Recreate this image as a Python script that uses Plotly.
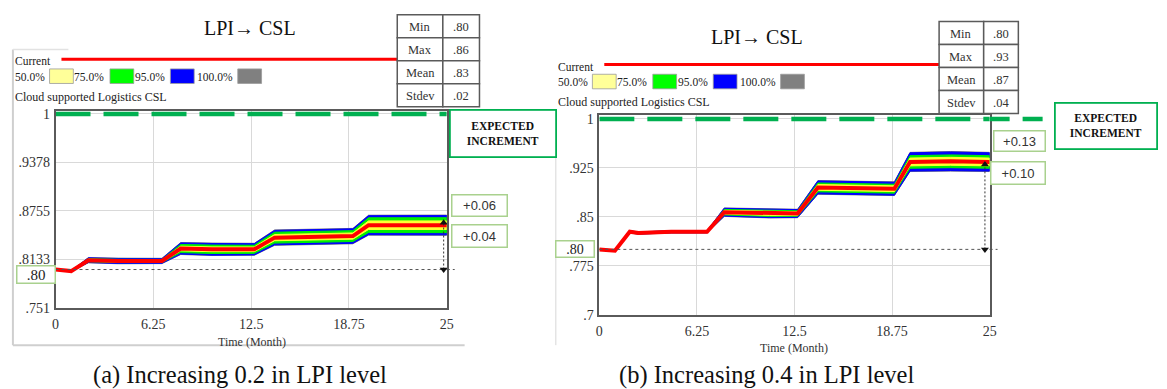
import plotly.graph_objects as go

W, H = 1167, 389
SERIF = "Liberation Serif, Times New Roman, serif"
SANS = "Liberation Sans, Arial, sans-serif"

# ---------------- data ----------------
xticks = [0, 6.25, 12.5, 18.75, 25]
xticklabels = ["0", "6.25", "12.5", "18.75", "25"]

yticks_a = [0.751, 0.8133, 0.8755, 0.9378, 1.0]
yticklabels_a = [".751", ".8133", ".8755", ".9378", "1"]
yticks_b = [0.7, 0.775, 0.85, 0.925, 1.0]
yticklabels_b = [".7", ".775", ".85", ".925", "1"]

# (a) +0.2 LPI
time_a = [0, 1.0, 2.1, 4.0, 6.8, 8.0, 10.0, 12.7, 14.0, 16.5, 19.0, 20.0, 22.5, 25.0]
current_a = [0.800, 0.798, 0.812, 0.811, 0.811, 0.827, 0.826, 0.826, 0.841, 0.842, 0.843, 0.857, 0.857, 0.857]
spread50_a = [0.0, 0.0002, 0.0012, 0.0013, 0.0012, 0.0030, 0.0031, 0.0030, 0.0040, 0.0042, 0.0040, 0.0055, 0.0054, 0.0055]
spread75_a = [0.0, 0.0003, 0.0020, 0.0021, 0.0020, 0.0052, 0.0054, 0.0052, 0.0070, 0.0072, 0.0070, 0.0095, 0.0094, 0.0096]
spread95_a = [0.0, 0.0005, 0.0030, 0.0032, 0.0030, 0.0072, 0.0075, 0.0072, 0.0093, 0.0096, 0.0093, 0.0122, 0.0121, 0.0124]
spread100_a = [0.0, 0.0006, 0.0034, 0.0036, 0.0034, 0.0077, 0.0080, 0.0077, 0.0099, 0.0102, 0.0099, 0.0128, 0.0127, 0.0130]

# (b) +0.4 LPI
time_b = [0, 1.0, 1.95, 2.5, 4.6, 6.9, 8.0, 10.9, 12.7, 14.0, 16.5, 18.9, 19.9, 22.5, 25.0]
current_b = [0.800, 0.798, 0.827, 0.825, 0.827, 0.827, 0.857, 0.855, 0.855, 0.895, 0.894, 0.893, 0.934, 0.935, 0.934]
spread50_b = [0.0, 0.0001, 0.0006, 0.0006, 0.0006, 0.0006, 0.0028, 0.0029, 0.0028, 0.0044, 0.0045, 0.0044, 0.0060, 0.0061, 0.0060]
spread75_b = [0.0, 0.0002, 0.0010, 0.0010, 0.0011, 0.0010, 0.0042, 0.0044, 0.0042, 0.0068, 0.0070, 0.0068, 0.0096, 0.0098, 0.0096]
spread95_b = [0.0, 0.0003, 0.0015, 0.0015, 0.0016, 0.0015, 0.0060, 0.0063, 0.0060, 0.0099, 0.0102, 0.0099, 0.0140, 0.0143, 0.0140]
spread100_b = [0.0, 0.0004, 0.0018, 0.0018, 0.0019, 0.0018, 0.0065, 0.0068, 0.0065, 0.0105, 0.0108, 0.0105, 0.0147, 0.0150, 0.0147]

stats_labels = ["Min", "Max", "Mean", "Stdev"]
stats_a = [".80", ".86", ".83", ".02"]
stats_b = [".80", ".93", ".87", ".04"]

baseline = 0.80
baseline_label = ".80"
target = 1.0
increment_a = [0.06, 0.04]
increment_b = [0.13, 0.10]

band_levels = ["50.0%", "75.0%", "95.0%", "100.0%"]
band_colors = ["#ffff33", "#00f000", "#0000ff", "#808080"]
legend_colors = ["#ffff99", "#00ff00", "#0000ff", "#808080"]

titles = ["LPI\u2192 CSL", "LPI\u2192 CSL"]
captions = ["(a) Increasing 0.2 in LPI level", "(b) Increasing 0.4 in LPI level"]
series_name = "Cloud supported Logistics CSL"

# ---------------- layout helpers (pixel -> paper) ----------------
def px(x):
    return x / W


def py(y):
    return 1 - y / H


GRID = "#d9d9d9"
FRAME = "#5a5a5a"
GREEN = "#00b050"
LIGHT_GREEN = "#a9d18e"
RED = "#ff0000"

panels = [
    dict(xa="x", ya="y", xpx=(52, 447), ypx=(110.5, 313.3), yr=[0.751, 1.0037],
         t=time_a, cur=current_a,
         spreads=[spread50_a, spread75_a, spread95_a, spread100_a],
         yt=yticks_a, ytl=yticklabels_a, stats=stats_a, inc=increment_a,
         arrow_t=24.8),
    dict(xa="x2", ya="y2", xpx=(601, 995), ypx=(115, 320.5), yr=[0.7, 1.0053],
         t=time_b, cur=current_b,
         spreads=[spread50_b, spread75_b, spread95_b, spread100_b],
         yt=yticks_b, ytl=yticklabels_b, stats=stats_b, inc=increment_b,
         arrow_t=24.7),
]


def data_to_paper(p, t, v):
    x0, x1 = p["xpx"]
    ytop, ybot = p["ypx"]
    r0, r1 = p["yr"]
    xp = x0 + (t / 25.0) * (x1 - x0)
    yp = ybot - (v - r0) / (r1 - r0) * (ybot - ytop)
    return px(xp), py(yp)


fig = go.Figure()
shapes = []
annotations = []

for p in panels:
    t = p["t"]
    cur = p["cur"]
    # confidence bands, widest first
    for spread, color in reversed(list(zip(p["spreads"], band_colors))):
        upper = [c + s for c, s in zip(cur, spread)]
        lower = [c - s for c, s in zip(cur, spread)]
        fig.add_trace(go.Scatter(
            x=t + t[::-1], y=upper + lower[::-1], mode="lines", fill="toself",
            fillcolor=color, line=dict(color=color, width=1),
            xaxis=p["xa"], yaxis=p["ya"], hoverinfo="skip"))
    # current run
    fig.add_trace(go.Scatter(
        x=t, y=cur, mode="lines", line=dict(color=RED, width=4),
        xaxis=p["xa"], yaxis=p["ya"], hoverinfo="skip"))
    # expected level
    fig.add_trace(go.Scatter(
        x=[0, 25], y=[target, target], mode="lines",
        line=dict(color=GREEN, width=4.5, dash="35px,13px"),
        xaxis=p["xa"], yaxis=p["ya"], hoverinfo="skip"))
    # baseline reference
    fig.add_trace(go.Scatter(
        x=[0, 25], y=[baseline, baseline], mode="lines",
        line=dict(color="#555555", width=1, dash="3px,3px"),
        xaxis=p["xa"], yaxis=p["ya"], hoverinfo="skip"))
    # increment arrow from baseline up to baseline + first increment
    top = baseline + p["inc"][0]
    fig.add_trace(go.Scatter(
        x=[p["arrow_t"], p["arrow_t"]], y=[baseline, top], mode="lines",
        line=dict(color="#333333", width=1, dash="2px,2px"),
        xaxis=p["xa"], yaxis=p["ya"], hoverinfo="skip"))
    fig.add_trace(go.Scatter(
        x=[p["arrow_t"], p["arrow_t"]], y=[baseline, top], mode="markers",
        marker=dict(symbol=["triangle-down", "triangle-up"], size=7, color="#111111"),
        cliponaxis=False, xaxis=p["xa"], yaxis=p["ya"], hoverinfo="skip"))

    # baseline extension past the right frame
    bx, by = data_to_paper(p, 25, baseline)
    shapes.append(dict(type="line", xref="paper", yref="paper", x0=bx, x1=bx + px(8),
                       y0=by, y1=by, line=dict(color="#555555", width=1, dash="3px,3px")))

# ---------------- axes ----------------
def xaxis(p, anchor):
    return dict(domain=[px(p["xpx"][0]), px(p["xpx"][1])], range=[0, 25], anchor=anchor,
                tickvals=xticks, ticktext=xticklabels, showgrid=True, gridcolor=GRID,
                gridwidth=1.3, zeroline=False, showline=True, linecolor=FRAME, linewidth=1.5,
                mirror=True, ticks="", ticklabelstandoff=3,
                tickfont=dict(family=SERIF, size=14, color="#333333"), fixedrange=True)


def yaxis(p, anchor):
    return dict(domain=[py(p["ypx"][1]), py(p["ypx"][0])], range=p["yr"], anchor=anchor,
                tickvals=p["yt"], ticktext=p["ytl"], showgrid=True, gridcolor=GRID,
                gridwidth=1.3, zeroline=False, showline=True, linecolor=FRAME, linewidth=1.5,
                mirror=True, ticks="", ticklabelstandoff=1,
                tickfont=dict(family=SERIF, size=14, color="#333333"), fixedrange=True)


# ---------------- panel decorations ----------------
def text(x, y, s, size=12, anchor="left", family=SERIF, color="#222222"):
    annotations.append(dict(x=px(x), y=py(y), xref="paper", yref="paper", text=s,
                            showarrow=False, xanchor=anchor, yanchor="middle",
                            borderpad=0,
                            font=dict(family=family, size=size, color=color)))


def boxed(cx, cy, w, h, s, border, size=13, family=SANS, color="#333333", bw=1.5):
    annotations.append(dict(x=px(cx), y=py(cy), xref="paper", yref="paper", text=s,
                            showarrow=False, xanchor="center", yanchor="middle",
                            width=w, height=h, borderpad=0, bgcolor="white",
                            bordercolor=border, borderwidth=bw,
                            font=dict(family=family, size=size, color=color)))


def rect(x0, y0, x1, y1, fill, line="#777777", lw=1):
    shapes.append(dict(type="rect", xref="paper", yref="paper", x0=px(x0), x1=px(x1),
                       y0=py(y1), y1=py(y0), fillcolor=fill, line=dict(color=line, width=lw)))


def hline(x0, x1, y, color, width, dash="solid"):
    shapes.append(dict(type="line", xref="paper", yref="paper", x0=px(x0), x1=px(x1),
                       y0=py(y), y1=py(y), line=dict(color=color, width=width, dash=dash)))


def vline(x, y0, y1, color, width):
    shapes.append(dict(type="line", xref="paper", yref="paper", x0=px(x), x1=px(x),
                       y0=py(y0), y1=py(y1), line=dict(color=color, width=width)))


# outer frame remnants
vline(9, 47, 352, "#cfcfcf", 2)
hline(9, 465, 352, "#cfcfcf", 2)
hline(9, 65, 47, "#e2e2e2", 1.5)
vline(557, 128, 352, "#e4e4e4", 1.5)

# legend blocks: (dx, dy) offset of each panel's header
for (dx, dy), title_xy, tbl, p in [
    ((0, 0), (248, 25), dict(x=(397, 443, 480), y0=11, rh=23.75), panels[0]),
    ((548, 5.5), (760, 34), dict(x=(944, 989, 1024), y0=18, rh=23.75), panels[1]),
]:
    text(title_xy[0], title_xy[1], titles[0], size=20, anchor="center", color="#111111")
    text(10 + dx, 59 + dy, "Current", size=11.5)
    hline(58 + dx, tbl["x"][0], 57 + dy, RED, 3)
    label_x = [10, 70, 131, 194]
    box_x = [46, 107, 168, 236]
    for lx, bxp, lab, col in zip(label_x, box_x, band_levels, legend_colors):
        text(lx + dx, 75 + dy, lab, size=11.5)
        rect(bxp + dx, 67 + dy, bxp + 24 + dx, 82 + dy, col, line="#9a9a9a", lw=0.8)
    text(10 + dx, 96 + dy, series_name, size=12)

    # statistics table
    xa, xm, xb = tbl["x"]
    for i, (lab, val) in enumerate(zip(stats_labels, p["stats"])):
        ya = tbl["y0"] + i * tbl["rh"]
        yb = ya + tbl["rh"]
        rect(xa, ya, xm, yb, "white", line=FRAME, lw=1.5)
        rect(xm, ya, xb, yb, "white", line=FRAME, lw=1.5)
        text((xa + xm) / 2, (ya + yb) / 2 + 1, lab, size=12.5, anchor="center", color="#333333")
        text((xm + xb) / 2, (ya + yb) / 2 + 1, val, size=12.5, anchor="center", color="#333333")

# expected increment boxes
exp_text = "<b>EXPECTED<br>INCREMENT</b>"
boxed(503.5, 134, 104, 45, exp_text, GREEN, size=11.5, family=SERIF, color="#111111", bw=1.8)
boxed(1112.5, 125.5, 100, 44, exp_text, GREEN, size=11.5, family=SERIF, color="#111111", bw=1.8)

# green target line continues to the right-hand box
gx, gy = data_to_paper(panels[1], 25, target)
shapes.append(dict(type="line", xref="paper", yref="paper", x0=gx, x1=px(1061),
                   y0=gy, y1=gy, line=dict(color=GREEN, width=4.5, dash="20px,13px")))

# increment labels and baseline labels
boxed(480, 208, 54, 20, "+%.2f" % increment_a[0], LIGHT_GREEN)
boxed(480, 239.5, 54, 21, "+%.2f" % increment_a[1], LIGHT_GREEN)
boxed(1025, 141.5, 50, 19, "+%.2f" % increment_b[0], LIGHT_GREEN)
boxed(1023.5, 174.5, 53, 21, "+%.2f" % increment_b[1], LIGHT_GREEN)
boxed(32.5, 279.5, 37, 16, baseline_label, LIGHT_GREEN, size=15, family=SERIF, color="#222222")
boxed(576.5, 252.5, 37, 15, baseline_label, LIGHT_GREEN, size=14, family=SERIF, color="#222222")

# axis titles and captions
text(250, 349, "Time (Month)", size=12, anchor="center", color="#333333")
text(798, 355, "Time (Month)", size=12, anchor="center", color="#333333")
text(238, 383, captions[0], size=24.5, anchor="center", color="#111111")
text(770, 383, captions[1], size=24.5, anchor="center", color="#111111")

fig.update_layout(
    width=W, height=H, margin=dict(l=0, r=0, t=0, b=0),
    paper_bgcolor="white", plot_bgcolor="white", showlegend=False,
    xaxis=xaxis(panels[0], "y"), yaxis=yaxis(panels[0], "x"),
    xaxis2=xaxis(panels[1], "y2"), yaxis2=yaxis(panels[1], "x2"),
    shapes=shapes, annotations=annotations,
)

fig.write_html("out.html")
